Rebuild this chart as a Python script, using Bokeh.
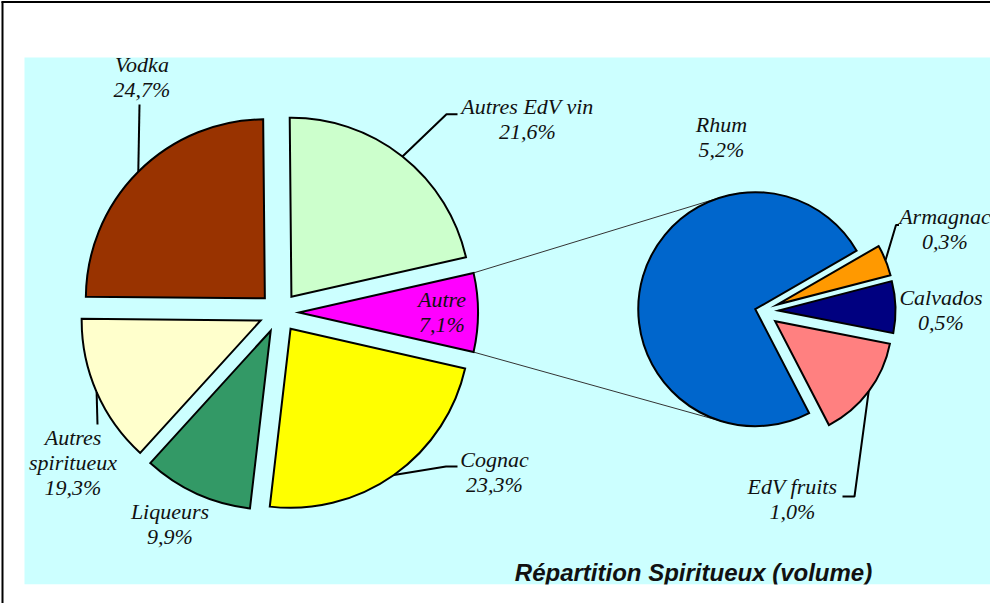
import math
from bokeh.plotting import figure
from bokeh.models import Range1d, ColumnDataSource
from bokeh.core.properties import value
from bokeh.embed import file_html
from bokeh.resources import INLINE

# ---------------- data ----------------
# main pie, counter-clockwise order starting with the "Autre" slice
main_categories = ["Autre", "Autres EdV vin", "Vodka", "Autres spiritueux", "Liqueurs", "Cognac"]
main_label_pct = [7.1, 21.6, 24.7, 19.3, 9.9, 23.3]          # values printed on the chart
main_drawn_share = [7.1, 21.6, 24.7, 13.4, 9.9, 23.3]        # slice sizes as drawn in the picture
# secondary pie (breakdown of "Autre"), counter-clockwise order
sec_categories = ["EdV fruits", "Calvados", "Armagnac", "Rhum"]
sec_pct = [1.0, 0.5, 0.3, 5.2]
title_text = "Répartition Spiritueux (volume)"

# ---------------- style / layout ----------------
W, H = 990, 603
X0, Y0 = 8, 8                       # page offset of the figure
def sy(Y):                          # screen Y -> data y (y up)
    return (Y0 + H) - Y

TEXT_SHIFT = 8                      # baseline correction for svg text

main_colors = {"Autre": "#FF00FF", "Autres EdV vin": "#CCFFCC", "Vodka": "#993300",
               "Autres spiritueux": "#FFFFCC", "Liqueurs": "#339966", "Cognac": "#FFFF00"}
sec_colors = {"EdV fruits": "#FF8080", "Calvados": "#000080", "Armagnac": "#FF9900", "Rhum": "#0066CC"}

MAIN_C = (286.5, sy(320))
MAIN_R = 179
MAIN_EXPLODE = 20
SEC_C = (769, sy(318.5))
SEC_R = 117
SEC_START = -62.6
SEC_EXPLODE = {"EdV fruits": 17, "Calvados": 17, "Armagnac": 17, "Rhum": 6.5}

# label layout: centre x, first baseline (screen Y), line spacing 25
label_pos = {
    "Vodka": (149.5, 80), "Autres EdV vin": (535, 121.7), "Autre": (449.5, 315),
    "Cognac": (502, 475), "Liqueurs": (177.5, 527.3), "Autres spiritueux": (80.5, 453.3),
    "Rhum": (729, 140), "Armagnac": (952.5, 231.7), "Calvados": (948.5, 313.3),
    "EdV fruits": (800, 502.3),
}
name_lines = {"Autres spiritueux": ["Autres", "spiritueux"]}
# leader polylines after the arc point (screen coords)
leaders = {
    "Vodka": [(147, 112)],
    "Autres EdV vin": [(454, 121.7), (465, 121.7)],
    "Cognac": [(453.5, 474), (465, 474)],
    "Autres spiritueux": [(105, 432)],
    "Armagnac": [(903.5, 232.5), (906.5, 232.5)],
    "EdV fruits": [(862, 504), (850, 504)],
}

def fmt(v):
    return ("%.1f" % v).replace(".", ",") + "%"

p = figure(width=W, height=H, output_backend="svg", toolbar_location=None,
           x_range=Range1d(X0, X0 + W), y_range=Range1d(0, H),
           min_border=0, outline_line_color=None, background_fill_color="white",
           border_fill_color="white")
p.axis.visible = False
p.grid.visible = False

# plot-area background
p.quad(left=[32], right=[998], bottom=[sy(592)], top=[sy(65)],
       fill_color="#CCFFFF", line_color=None)

# ---------------- geometry ----------------
def wedges(cats, shares, start, center, r, explode):
    total = float(sum(shares))
    out = {}
    a = start
    for c, s in zip(cats, shares):
        span = s / total * 360.0
        mid = a + span / 2
        e = explode[c] if isinstance(explode, dict) else explode
        cx = center[0] + e * math.cos(math.radians(mid))
        cy = center[1] + e * math.sin(math.radians(mid))
        out[c] = dict(a0=a, a1=a + span, mid=mid, cx=cx, cy=cy, r=r)
        a += span
    return out

autre_span = main_drawn_share[0] / sum(main_drawn_share) * 360.0
mw = wedges(main_categories, main_drawn_share, -autre_span / 2, MAIN_C, MAIN_R, MAIN_EXPLODE)
sw = wedges(sec_categories, sec_pct, SEC_START, SEC_C, SEC_R, SEC_EXPLODE)

# connector lines: Autre outer corners -> tangents of Rhum circle
aut = mw["Autre"]
rh = sw["Rhum"]
cxs, cys = [], []
for ang, sign in ((aut["a1"], -1), (aut["a0"], +1)):
    px = aut["cx"] + aut["r"] * math.cos(math.radians(ang))
    py = aut["cy"] + aut["r"] * math.sin(math.radians(ang))
    dx, dy = px - rh["cx"], py - rh["cy"]
    d = math.hypot(dx, dy)
    th = math.atan2(dy, dx)
    t = th + sign * math.acos(rh["r"] / d)
    tx = rh["cx"] + rh["r"] * math.cos(t)
    ty = rh["cy"] + rh["r"] * math.sin(t)
    cxs.append([px, tx]); cys.append([py, ty])
p.multi_line(xs=cxs, ys=cys, line_color="#333333", line_width=1)

def draw(ws, colors):
    src = ColumnDataSource(dict(
        x=[w["cx"] for w in ws.values()], y=[w["cy"] for w in ws.values()],
        r=[w["r"] for w in ws.values()],
        s=[math.radians(w["a0"]) for w in ws.values()],
        e=[math.radians(w["a1"]) for w in ws.values()],
        c=[colors[k] for k in ws.keys()]))
    p.wedge(x="x", y="y", radius="r", start_angle="s", end_angle="e", source=src,
            fill_color="c", line_color="black", line_width=2, line_join="miter")

draw(mw, main_colors)
draw(sw, sec_colors)

# leader lines
allw = dict(mw); allw.update(sw)
lxs, lys = [], []
for k, pts in leaders.items():
    w = allw[k]
    sx0 = w["cx"] + w["r"] * math.cos(math.radians(w["mid"]))
    sy0 = w["cy"] + w["r"] * math.sin(math.radians(w["mid"]))
    lxs.append([sx0] + [q[0] for q in pts])
    lys.append([sy0] + [sy(q[1]) for q in pts])
p.multi_line(xs=lxs, ys=lys, line_color="black", line_width=2)

# labels
pcts = dict(zip(main_categories, main_label_pct))
pcts.update(dict(zip(sec_categories, sec_pct)))
tx, ty, tt = [], [], []
for k, (lx, ly) in label_pos.items():
    lines = name_lines.get(k, [k]) + [fmt(pcts[k])]
    for i, ln in enumerate(lines):
        tx.append(lx); ty.append(sy(ly + 25 * i) + TEXT_SHIFT); tt.append(ln)
p.text(x=tx, y=ty, text=tt, text_font=value("Liberation Serif"), text_font_style="italic",
       text_font_size="22px", text_align="center", text_baseline="alphabetic",
       text_color="#111111")

# title (clipped at the bottom of the plot area as in the reference)
p.text(x=[701], y=[sy(588) + TEXT_SHIFT], text=[title_text], text_font=value("Liberation Sans"),
       text_font_style="bold italic", text_font_size="24px", text_align="center",
       text_baseline="alphabetic", text_color="#111111")
p.quad(left=[11], right=[998], bottom=[0], top=[sy(592)], fill_color="white", line_color=None)

# outer frame (left and top edges visible)
p.segment(x0=[10, 9], y0=[0, sy(9.5)], x1=[10, 998], y1=[sy(9), sy(9.5)],
          line_color="black", line_width=2)

open("out.html", "w").write(file_html(p, INLINE))
